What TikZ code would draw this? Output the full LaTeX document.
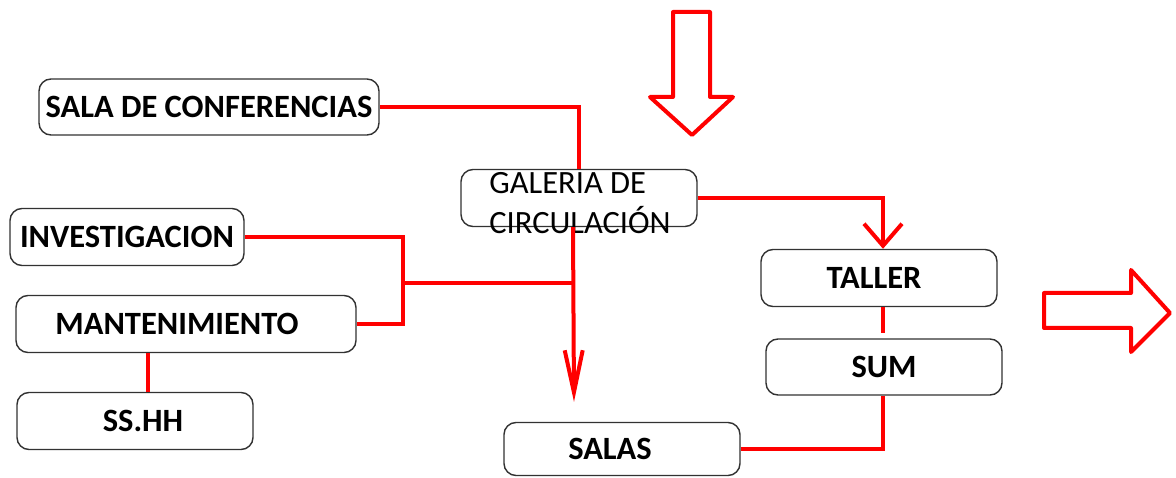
\documentclass[tikz,border=0pt]{standalone}
\usepackage{fontspec}
\setmainfont{Carlito}
\usetikzlibrary{arrows.meta,calc}
\definecolor{linered}{RGB}{255,0,0}
\definecolor{boxline}{RGB}{50,50,50}
\tikzset{
  box/.style={draw=boxline, line width=1.4pt, rounded corners=12pt, fill=white, inner sep=0pt,
              font=\fontsize{32.5}{36}\selectfont\bfseries},
  conn/.style={draw=linered, line width=4pt},
  barbA/.style={-{Straight Barb[length=22pt,width=38pt,line width=4pt]}},
  barbB/.style={-{Straight Barb[length=42pt,width=18pt,line width=4pt]}},
  blockarrow/.style={draw=linered, line width=4pt, line join=round, fill=white},
}
\begin{document}
\begin{tikzpicture}[x=1pt,y=-1pt]
\useasboundingbox (0,0) rectangle (1176,478);
% boxes
\node[box, minimum width=340pt, minimum height=56pt] (conf) at (209,107) {SALA DE CONFERENCIAS};
\node[box, minimum width=234pt, minimum height=57pt] (inv) at (127,237) {INVESTIGACION};
\node[box, minimum width=340pt, minimum height=57pt] (mant) at (186,324) {\hspace*{-18pt}MANTENIMIENTO};
\node[box, minimum width=236pt, minimum height=57pt] (sshh) at (135,421) {\hspace*{16pt}SS.HH};
\node[box, minimum width=236pt, minimum height=57pt] (gal) at (579,198) {};
\node[font=\fontsize{32.5}{40}\selectfont, align=left, inner sep=0pt] (galtext) at (580,203) {GALERIA DE\\CIRCULACIÓN};
\node[box, minimum width=236pt, minimum height=57pt] (taller) at (879,278) {\hspace*{-10pt}TALLER};
\node[box, minimum width=236pt, minimum height=56pt] (sum) at (884,367) {SUM};
\node[box, minimum width=236pt, minimum height=53pt] (salas) at (622,449) {\hspace*{-24pt}SALAS};
% named points
\coordinate (jn) at (403,283);
\coordinate (gv) at (573,283);
\coordinate (ts) at (883,306);
% connectors
\draw[conn] (conf.east) -| (gal.north);
\draw[conn, barbA] (gal.east) -| ([xshift=4pt]taller.north);
\draw[conn, barbB] ([xshift=-6pt]gal.south) -- ([xshift=-48pt,yshift=20pt]salas.north);
\draw[conn] (inv.east) -| (jn) |- (mant.east);
\draw[conn] (jn) -- (gv);
\draw[conn] ([xshift=-38pt]mant.south) -- ([xshift=13pt]sshh.north);
\draw[conn, shorten >=5pt] (taller.south -| ts) -- (sum.north -| ts);
\draw[conn] (sum.south -| ts) |- (salas.east);
% block arrows
\draw[blockarrow] (673,12) -- (710,12) -- (710,97) -- (733,97) -- (692,135) -- (650,97) -- (673,97) -- cycle;
\draw[blockarrow] (1044,293) -- (1131,293) -- (1131,270) -- (1170,313) -- (1131,352) -- (1131,328) -- (1044,328) -- cycle;
\end{tikzpicture}
\end{document}
